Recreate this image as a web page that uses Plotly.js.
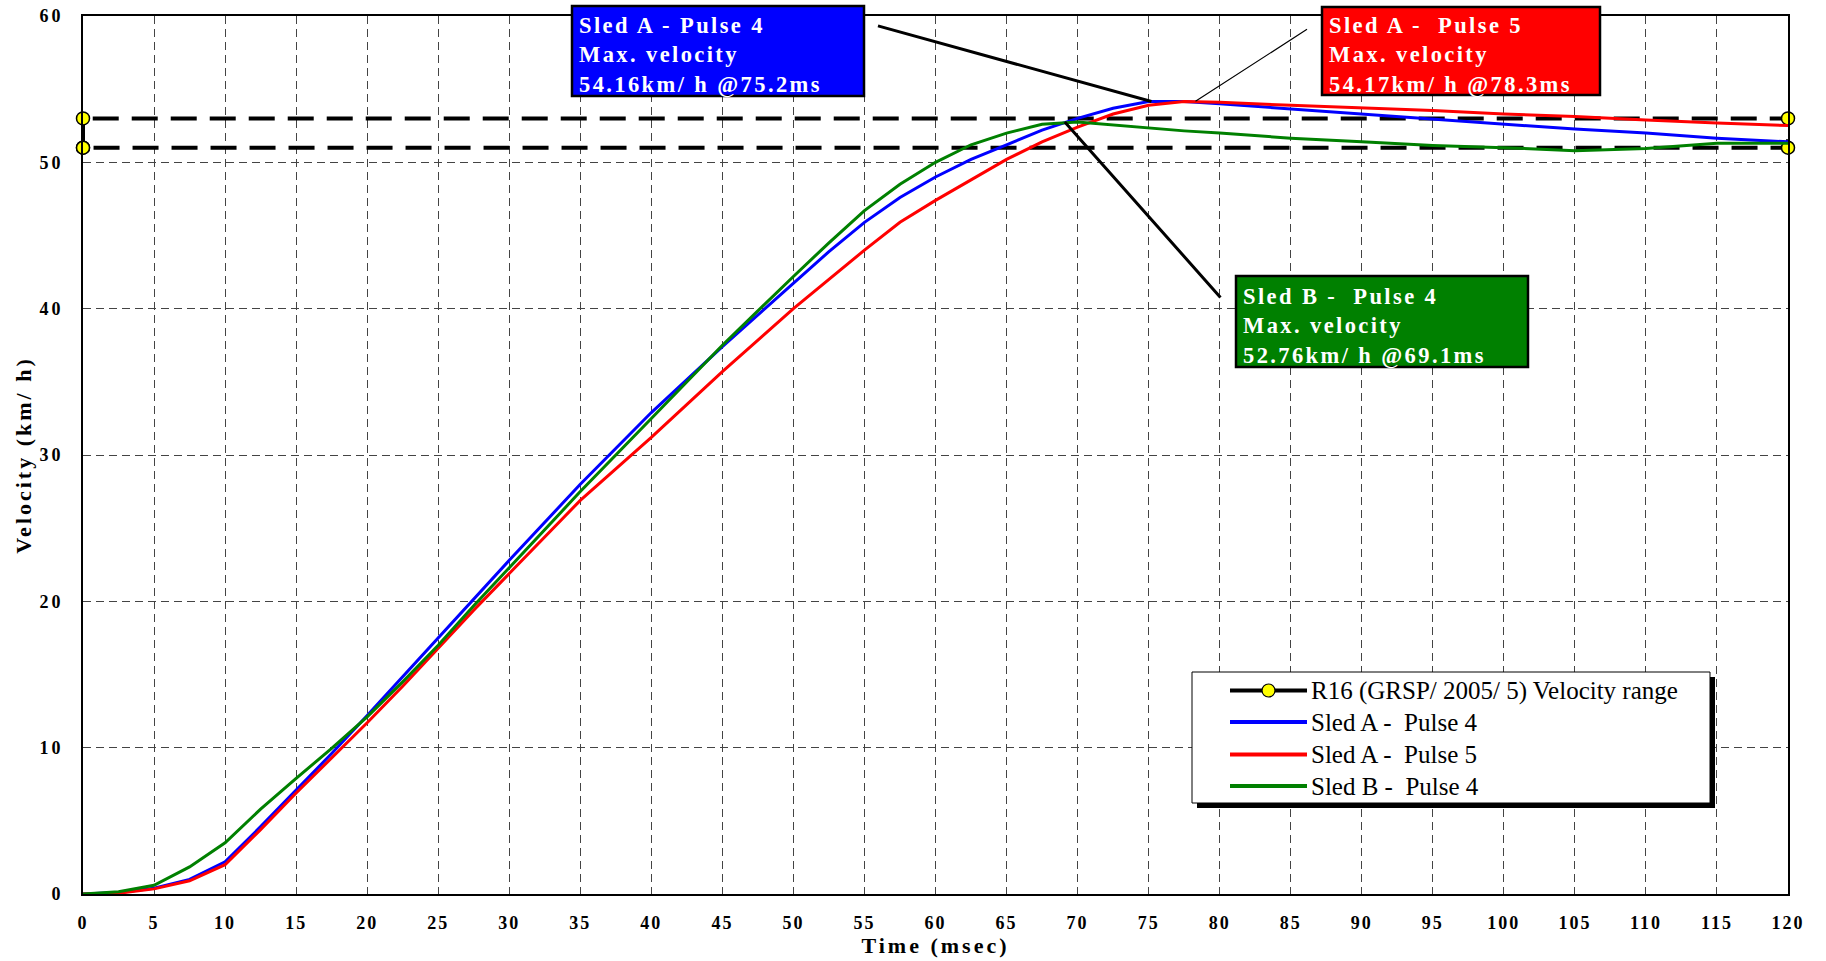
<!DOCTYPE html>
<html><head><meta charset="utf-8">
<script src="https://cdn.plot.ly/plotly-3.0.1.min.js"></script>
<style>
html,body{margin:0;padding:0;background:#fff;}
#chart{width:1826px;height:961px;}
.xtick text{letter-spacing:2px;}
.ytick text{letter-spacing:3px;}
.g-xtitle text,.g-ytitle text{letter-spacing:3px;}
g.annotation[data-index="0"] text,
g.annotation[data-index="1"] text,
g.annotation[data-index="2"] text{letter-spacing:2.4px;}
</style></head><body><div id="chart"></div>
<script>
// ---- data ----
const timeMs = [0, 2.5, 5, 7.5, 10, 12.5, 15, 17.5, 20, 22.5, 25, 27.5, 30, 35, 40, 45, 50, 52.5, 55, 57.5, 60, 62.5, 65, 67.5, 70, 72.5, 75, 77.5, 80, 85, 90, 95, 100, 105, 110, 115, 120];
const sledAPulse4 = [0.0, 0.1, 0.4, 1.0, 2.2, 4.6, 7.1, 9.6, 12.2, 14.85, 17.5, 20.1, 22.8, 28.0, 32.9, 37.4, 41.7, 43.9, 45.9, 47.6, 49.0, 50.2, 51.2, 52.2, 53.0, 53.7, 54.15, 54.15, 54.0, 53.65, 53.35, 53.0, 52.6, 52.27, 52.0, 51.65, 51.4];
const sledAPulse5 = [0.0, 0.05, 0.35, 0.9, 2.0, 4.4, 6.9, 9.3, 11.7, 14.2, 16.8, 19.4, 21.9, 26.9, 31.2, 35.7, 40.0, 42.0, 44.0, 45.9, 47.4, 48.8, 50.2, 51.4, 52.4, 53.3, 53.9, 54.15, 54.1, 53.9, 53.75, 53.55, 53.3, 53.13, 52.9, 52.68, 52.52];
const sledBPulse4 = [0.0, 0.15, 0.6, 1.85, 3.5, 5.8, 7.9, 9.95, 12.1, 14.5, 17.0, 19.7, 22.3, 27.5, 32.5, 37.5, 42.2, 44.5, 46.7, 48.5, 50.0, 51.2, 52.0, 52.6, 52.75, 52.55, 52.3, 52.15, 52.0, 51.65, 51.4, 51.15, 51.0, 50.8, 50.95, 51.3, 51.3];
const rangeLow = 51;
const rangeHigh = 53;
const rangeStart = 0;
const rangeEnd = 120;
const seriesNames = ['R16 (GRSP/ 2005/ 5) Velocity range', 'Sled A -\u00a0 Pulse 4', 'Sled A -\u00a0 Pulse 5', 'Sled B -\u00a0 Pulse 4'];
const boxTitles = ['Sled A - Pulse 4', 'Sled A -\u00a0 Pulse 5', 'Sled B -\u00a0 Pulse 4'];
const peakTime = [75.2, 78.3, 69.1];
const peakVel = [54.16, 54.17, 52.76];
const xTicks = [0, 120, 5];
const yTicks = [0, 60, 10];

// ---- styling / layout ----
const colors = ['#000000', '#0000FF', '#FF0000', '#008000'];
const SERIF = '"Liberation Serif", "Times New Roman", serif';
const W = 1826, H = 961, ML = 83, MR = 38, MT = 16, MB = 67;
const PW = W - ML - MR, PH = H - MT - MB;
const px = x => (x - ML) / PW;
const py = y => (MT + PH - y) / PH;

const traces = [
  {
    x: [rangeStart, rangeStart, rangeEnd, rangeEnd, rangeStart],
    y: [rangeLow, rangeHigh, rangeHigh, rangeLow, rangeLow],
    name: seriesNames[0], mode: 'lines+markers', cliponaxis: false,
    line: {color: '#000', width: 4, dash: '26px,13px'},
    marker: {size: 13, color: '#FFFF00', line: {color: '#000', width: 1.5}}
  },
  {x: timeMs, y: sledAPulse4, name: seriesNames[1], mode: 'lines', line: {color: colors[1], width: 3}},
  {x: timeMs, y: sledAPulse5, name: seriesNames[2], mode: 'lines', line: {color: colors[2], width: 3}},
  {x: timeMs, y: sledBPulse4, name: seriesNames[3], mode: 'lines', line: {color: colors[3], width: 3}}
];

const annotations = [];
const shapes = [];
// info boxes (pixel geometry): box rect + text block (middle line centre at ty)
const boxGeom = [
  {l: 572, t: 6, w: 292, h: 90, tx: 578, ty: 56},
  {l: 1322, t: 7, w: 278, h: 88, tx: 1328, ty: 56},
  {l: 1236, t: 276, w: 292, h: 91, tx: 1242, ty: 326.5}
];
for (let i = 0; i < 3; i++) {
  const g = boxGeom[i];
  annotations.push({
    xref: 'paper', yref: 'paper', x: px(g.tx), y: py(g.ty), xanchor: 'left', yanchor: 'middle',
    align: 'left', borderpad: 0,
    text: boxTitles[i] + '<br>Max. velocity<br>' + peakVel[i].toFixed(2) + 'km/ h @' + peakTime[i].toFixed(1) + 'ms',
    showarrow: false, font: {family: SERIF, size: 22.5, weight: 'bold', color: '#fff'}
  });
  shapes.push({type: 'rect', xref: 'paper', yref: 'paper', x0: px(g.l), x1: px(g.l + g.w), y0: py(g.t + g.h), y1: py(g.t),
    fillcolor: colors[i + 1], line: {color: '#000', width: 2.5}, layer: 'above'});
}
// leader lines (tail offsets in pixels)
const leader = [
  {ax: -275, ay: -76, w: 3},
  {ax: 113, ay: -73, w: 1.2},
  {ax: 157, ay: 177, w: 3}
];
for (let i = 0; i < 3; i++) {
  annotations.push({
    xref: 'x', yref: 'y', x: peakTime[i], y: peakVel[i], text: '', showarrow: true,
    arrowhead: 0, arrowwidth: leader[i].w, arrowcolor: '#000', ax: leader[i].ax, ay: leader[i].ay,
    standoff: 0, startstandoff: 0
  });
}
// legend (drawn manually)
const LG = {l: 1192, r: 1710, t: 672, b: 803, sh: 5};
shapes.push({type: 'rect', xref: 'paper', yref: 'paper', x0: px(LG.l + LG.sh), x1: px(LG.r + LG.sh), y0: py(LG.b + LG.sh), y1: py(LG.t + LG.sh), fillcolor: '#000', line: {width: 0}, layer: 'above'});
shapes.push({type: 'rect', xref: 'paper', yref: 'paper', x0: px(LG.l), x1: px(LG.r), y0: py(LG.b), y1: py(LG.t), fillcolor: '#fff', line: {color: '#000', width: 1}, layer: 'above'});
const rowY = [690.5, 722, 754.6, 786];
const sampleL = 1230, sampleR = 1307, textX = 1309;
for (let i = 0; i < 4; i++) {
  shapes.push({type: 'line', xref: 'paper', yref: 'paper', x0: px(sampleL), x1: px(sampleR), y0: py(rowY[i]), y1: py(rowY[i]), line: {color: colors[i], width: 4}, layer: 'above'});
  annotations.push({xref: 'paper', yref: 'paper', x: px(textX), y: py(rowY[i]), xanchor: 'left', yanchor: 'middle', showarrow: false, text: seriesNames[i], font: {family: SERIF, size: 25, color: '#000'}});
}
const cx = (sampleL + sampleR) / 2, r = 6.5;
shapes.push({type: 'circle', xref: 'paper', yref: 'paper', x0: px(cx - r), x1: px(cx + r), y0: py(rowY[0] + r), y1: py(rowY[0] - r), fillcolor: '#FFFF00', line: {color: '#000', width: 1.2}, layer: 'above'});

const axisCommon = {
  showgrid: true, gridcolor: '#444', gridwidth: 1, griddash: '8px,5px',
  showline: true, mirror: true, linecolor: '#000', linewidth: 2, zeroline: false, ticks: '',
  tickfont: {family: SERIF, size: 18, weight: 'bold', color: '#000'}, automargin: false
};

const layout = {
  width: W, height: H, margin: {l: ML, r: MR, t: MT, b: MB},
  paper_bgcolor: '#fff', plot_bgcolor: '#fff', showlegend: false, hovermode: false,
  xaxis: Object.assign({}, axisCommon, {
    range: [xTicks[0], xTicks[1]], tick0: xTicks[0], dtick: xTicks[2], ticklabelstandoff: 11,
    title: {text: 'Time (msec)', font: {family: SERIF, size: 22, weight: 'bold', color: '#000'}, standoff: 5}
  }),
  yaxis: Object.assign({}, axisCommon, {
    range: [yTicks[0], yTicks[1]], tick0: yTicks[0], dtick: yTicks[2], ticklabelstandoff: 14,
    title: {text: 'Velocity (km/ h)', font: {family: SERIF, size: 22, weight: 'bold', color: '#000'}, standoff: 2}
  }),
  annotations: annotations, shapes: shapes
};

Plotly.newPlot('chart', traces, layout, {staticPlot: true, displayModeBar: false});
</script></body></html>
